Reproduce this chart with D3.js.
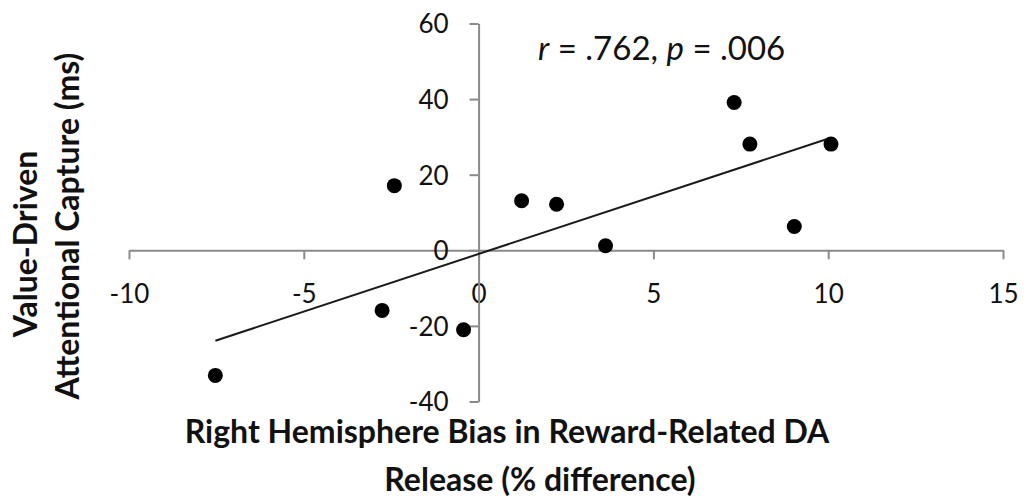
<!DOCTYPE html>
<html>
<head>
<meta charset="utf-8">
<script src="https://cdn.jsdelivr.net/npm/d3@7"></script>
<style>
  html, body { margin: 0; padding: 0; background: #fff; }
  svg { display: block; }
</style>
</head>
<body>
<div id="chart"></div>
<script>
// data
const biasPct = [-7.53, -2.41, -2.76, -0.43, 1.23, 2.23, 3.63, 7.31, 7.76, 9.03, 10.08];
const captureMs = [-33.1, 17.1, -15.9, -21.0, 13.1, 12.2, 1.2, 39.1, 28.1, 6.3, 28.1];
const xTicks = [-10, -5, 0, 5, 10, 15];
const yTicks = [-40, -20, 0, 20, 40, 60];
const statLabel = { r: ".762", p: ".006" };

const width = 1025, height = 502;
const axisColor = "#8a8a8a";
const font = "Lato, 'Open Sans', sans-serif";

const svg = d3.select("#chart").append("svg")
  .attr("width", width)
  .attr("height", height);

const x = d3.scaleLinear().domain([-10, 15]).range([129, 1003]);
const y = d3.scaleLinear().domain([-40, 60]).range([401.5, 23.5]);

const points = biasPct.map(function (v, i) { return { x: v, y: captureMs[i] }; });

// plain hyphen minus, like the original
const fmt = function (d) { return String(d); };

// x axis sits on y = 0
const xAxis = svg.append("g")
  .attr("transform", "translate(0," + y(0) + ")")
  .call(d3.axisBottom(x).tickValues(xTicks).tickSize(9).tickSizeOuter(0).tickFormat(fmt));

// y axis sits on x = 0
const yAxis = svg.append("g")
  .attr("transform", "translate(" + x(0) + ",0)")
  .call(d3.axisLeft(y).tickValues(yTicks).tickSize(9).tickSizeOuter(0).tickPadding(21).tickFormat(fmt));

[xAxis, yAxis].forEach(function (g) {
  g.select(".domain").attr("stroke", axisColor).attr("stroke-width", 2);
  g.selectAll(".tick line").attr("stroke", axisColor).attr("stroke-width", 2);
  g.selectAll(".tick text")
    .attr("fill", "#111")
    .style("font-family", font)
    .style("font-size", "26px");
});
xAxis.selectAll(".tick text").attr("y", 43).attr("dy", "0.36em");
yAxis.selectAll(".tick text").attr("dy", "0.36em");

// least squares fit over the observed range
const mx = d3.mean(biasPct), my = d3.mean(captureMs);
const sxy = d3.sum(points, function (d) { return (d.x - mx) * (d.y - my); });
const sxx = d3.sum(points, function (d) { return (d.x - mx) * (d.x - mx); });
const slope = sxy / sxx, intercept = my - slope * mx;
const ext = d3.extent(biasPct);

svg.append("line")
  .attr("x1", x(ext[0])).attr("y1", y(intercept + slope * ext[0]))
  .attr("x2", x(ext[1])).attr("y2", y(intercept + slope * ext[1]))
  .attr("stroke", "#1a1a1a")
  .attr("stroke-width", 2);

svg.append("g").selectAll("circle")
  .data(points)
  .enter().append("circle")
  .attr("cx", function (d) { return x(d.x); })
  .attr("cy", function (d) { return y(d.y); })
  .attr("r", 7.5)
  .attr("fill", "#000");

// stats annotation
const stat = svg.append("text")
  .attr("x", 538).attr("y", 60)
  .attr("fill", "#111")
  .style("font-family", font)
  .style("font-size", "33px");
stat.append("tspan").style("font-style", "italic").text("r");
stat.append("tspan").text(" = " + statLabel.r + ", ");
stat.append("tspan").style("font-style", "italic").text("p");
stat.append("tspan").text(" = " + statLabel.p);

// axis titles
const titleSize = "32px";

const xTitle = [
  { text: "Right Hemisphere Bias in Reward-Related DA", x: 507, y: 443 },
  { text: "Release (% difference)", x: 540, y: 491 }
];
svg.append("g").selectAll("text")
  .data(xTitle)
  .enter().append("text")
  .attr("x", function (d) { return d.x; })
  .attr("y", function (d) { return d.y; })
  .attr("text-anchor", "middle")
  .attr("fill", "#111")
  .style("font-family", font)
  .style("font-size", titleSize)
  .style("font-weight", "700")
  .text(function (d) { return d.text; });

const yTitle = [
  { text: "Value-Driven", x: 37, y: 244 },
  { text: "Attentional Capture (ms)", x: 79, y: 226 }
];
svg.append("g").selectAll("text")
  .data(yTitle)
  .enter().append("text")
  .attr("transform", function (d) { return "translate(" + d.x + "," + d.y + ")rotate(-90)"; })
  .attr("text-anchor", "middle")
  .attr("fill", "#111")
  .style("font-family", font)
  .style("font-size", titleSize)
  .style("font-weight", "700")
  .text(function (d) { return d.text; });
</script>
</body>
</html>
